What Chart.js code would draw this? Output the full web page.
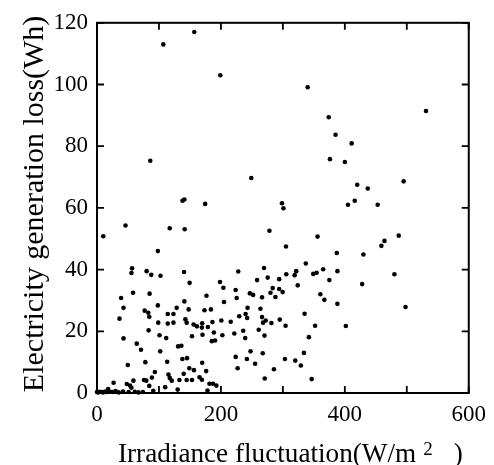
<!DOCTYPE html>
<html>
<head>
<meta charset="utf-8">
<script src="https://cdn.jsdelivr.net/npm/chart.js@4.4.0/dist/chart.umd.min.js"></script>
<style>
  html, body { margin: 0; padding: 0; background: #fff; }
  canvas { display: block; }
</style>
</head>
<body>
<canvas id="chart" width="494" height="465"></canvas>
<script>
// irradiance fluctuation (W/m2) and generation loss (Wh)
const irradiance = [
  107, 157, 199, 86, 249, 138, 141, 340, 531, 374, 385, 411, 376, 400, 420, 437, 495, 416, 405, 453,
  356, 487, 464, 459, 387, 430, 337, 321.5, 319, 349, 354.5, 365, 388, 480, 375, 324, 428, 360.5, 367, 388,
  498, 335, 352, 401.6, 342, 334, 320, 329, 346.5, 298.5, 301, 305, 294, 305.5, 294, 299.6, 295, 304.4, 303.3, 174.6,
  278.3, 228, 269.6, 198.6, 204, 223.8, 258.4, 275.5, 283.6, 246.7, 252, 176.7, 266.4, 280, 288, 225.4, 205, 173.5, 183.8, 243,
  263.8, 229.6, 239.8, 242.4, 266.4, 272.3, 268, 281.5, 200.7, 215.8, 186.3, 169.8, 169.3, 179, 188.6, 170.3, 202.3, 221.6, 236, 239.2,
  261, 270.3, 185.3, 190.6, 247.8, 267.5, 223.8, 241.9, 255.2, 227, 285.6, 270.7, 169.8, 176.2, 165.5, 169.3, 181.5, 187.4, 192.7, 178.3,
  38.9, 58.2, 84.9, 42.8, 36.3, 76.9, 82.8, 84.4, 98.2, 141, 128.6, 147.9, 114.2, 123.4, 142.6, 144.7, 98.8, 114.2, 123.4, 155.9,
  161.3, 83.3, 42.8, 64.1, 100.9, 111.7, 153.3, 71, 102, 130.9, 136.2, 78, 49.7, 113.3, 137.8, 145.3, 149, 156.5, 93.4, 88.6,
  84.4, 115.3, 117.4, 120.6, 139.9, 133, 144.7, 153.3, 75.8, 79.6, 58.8, 48.1, 53.3, 55.6, 26.8, 110.1, 130.2, 90.8, 46, 10.1,
  117.4, 141.5, 98.2, 56.6, 55.6, 80.1, 87.6, 102.5, 140.5, 149.5,
  0, 2, 4, 7, 10, 13, 16, 18, 21, 25, 30, 35, 42, 51, 61, 67, 74
];
const loss = [
  113, 117, 103, 75.3, 69.7, 62.3, 62.7, 99.1, 91.4, 89.4, 83.7, 80.9, 75.8, 74.9, 67.5, 66.3, 68.6, 62.3, 61, 61,
  50.7, 51, 49.3, 47.7, 45.4, 44.9, 42, 39.5, 38.2, 38.6, 39, 40.1, 39.5, 38.5, 36.6, 34.9, 35.3, 32, 30.2, 28.9,
  27.9, 25.7, 21.8, 21.7, 18.1, 13, 10.5, 8.9, 4.5, 61.5, 59.9, 47.5, 36.9, 38.5, 33.7, 32.7, 23.8, 21.8, 11, 61.3,
  52.6, 39.4, 40.5, 36, 34.1, 33.4, 36.6, 37.4, 34, 32.3, 31.8, 31.5, 31, 32.5, 31.1, 30.8, 29.5, 26.8, 27.1, 27.6,
  27.3, 24.9, 25.6, 24.3, 24.6, 23.5, 22.8, 22.7, 23.5, 23.1, 23, 22.6, 21.2, 21.4, 19.6, 18.9, 18.7, 19.3, 20.2, 17.8,
  20.5, 18.6, 16.8, 17, 13.5, 12.9, 11.7, 11, 9.5, 8, 7.7, 4.7, 9.8, 7.1, 5.1, 4.3, 3, 3, 2.4, 0.8,
  30.8, 32.5, 32.2, 27.6, 24.1, 26.7, 26, 24.7, 28.4, 29.7, 27.6, 27.1, 25.6, 25.6, 23.9, 22.8, 22.8, 22.5, 22.8, 22.2,
  21.6, 20.3, 17.7, 16, 18.7, 17.8, 18.4, 14, 13.5, 15.1, 15.3, 10, 9.1, 10.1, 11, 11.3, 8, 7.4, 6.8, 5,
  2.3, 6, 4.9, 4, 6.2, 4.2, 4.2, 4.2, 4.2, 4, 4, 2.9, 2.4, 1.7, 3.3, 1.9, 1.1, 0.7, 54.3, 50.8,
  53.4, 53.1, 46, 40.4, 38.9, 39.5, 38.3, 38, 39.2, 35.7,
  0.3, 0.2, 0.4, 0.3, 0.2, 0.5, 0.3, 1.3, 0.4, 0.3, 0.6, 0.2, 0.5, 0.3, 0.4, 0.2, 0.3
];
const xTicks = [0, 200, 400, 600];
const yTicks = [0, 20, 40, 60, 80, 100, 120];
const xTitle = ['Irradiance fluctuation(W/m', '2', ')'];
const yTitle = 'Electricity generation loss(Wh)';

const points = irradiance.map((v, i) => ({ x: v, y: loss[i] }));
const font = 'Liberation Serif';

// box round the plot, inward ticks, and the axis titles (x title has a superscript)
const framePlugin = {
  id: 'frame',
  afterDraw(chart) {
    const { ctx, chartArea: { left, right, top, bottom }, scales: { x, y } } = chart;
    ctx.save();
    ctx.strokeStyle = '#000';
    ctx.lineWidth = 2;
    ctx.strokeRect(left, top, right - left, bottom - top);
    ctx.lineWidth = 1.8;
    ctx.beginPath();
    x.ticks.forEach(t => {
      const px = x.getPixelForValue(t.value);
      ctx.moveTo(px, bottom); ctx.lineTo(px, bottom - 7);
      ctx.moveTo(px, top); ctx.lineTo(px, top + 7);
    });
    y.ticks.forEach(t => {
      const py = y.getPixelForValue(t.value);
      ctx.moveTo(left, py); ctx.lineTo(left + 7, py);
      ctx.moveTo(right, py); ctx.lineTo(right - 7, py);
    });
    ctx.stroke();

    ctx.fillStyle = '#000';
    ctx.textBaseline = 'alphabetic';
    ctx.textAlign = 'left';
    ctx.font = `27.2px "${font}"`;
    let tx = left + 21;
    const ty = bottom + 69;
    ctx.fillText(xTitle[0], tx, ty);
    tx += ctx.measureText(xTitle[0]).width + 7;
    ctx.font = `19px "${font}"`;
    ctx.fillText(xTitle[1], tx, ty - 7);
    tx += ctx.measureText(xTitle[1]).width + 21;
    ctx.font = `27.2px "${font}"`;
    ctx.fillText(xTitle[2], tx, ty);

    ctx.translate(43, (top + bottom) / 2 - 4);
    ctx.rotate(-Math.PI / 2);
    ctx.textAlign = 'center';
    ctx.font = `30px "${font}"`;
    ctx.fillText(yTitle, 0, 0);
    ctx.restore();
  }
};

new Chart(document.getElementById('chart'), {
  type: 'scatter',
  data: {
    datasets: [{
      data: points,
      backgroundColor: '#000',
      borderColor: '#000',
      pointRadius: 2.3,
      pointHoverRadius: 2.3,
      borderWidth: 0,
      clip: false
    }]
  },
  options: {
    responsive: false,
    animation: false,
    layout: { padding: { top: 20, right: 23, left: 0, bottom: 0 } },
    plugins: { legend: { display: false }, tooltip: { enabled: false } },
    scales: {
      x: {
        type: 'linear',
        min: 0, max: 600,
        grid: { display: false, drawTicks: false },
        border: { display: false },
        afterFit: s => { s.height = 72; },
        ticks: {
          stepSize: 100,
          padding: 8,
          color: '#000',
          font: { family: font, size: 23 },
          callback: v => xTicks.includes(v) ? String(v) : ''
        },
        title: { display: false }
      },
      y: {
        type: 'linear',
        min: 0, max: 120,
        grid: { display: false, drawTicks: false },
        border: { display: false },
        afterFit: s => { s.width = 97; },
        ticks: {
          stepSize: 20,
          padding: 9,
          color: '#000',
          font: { family: font, size: 23 },
          callback: v => yTicks.includes(v) ? String(v) : ''
        },
        title: { display: false }
      }
    }
  },
  plugins: [framePlugin]
});
</script>
</body>
</html>
